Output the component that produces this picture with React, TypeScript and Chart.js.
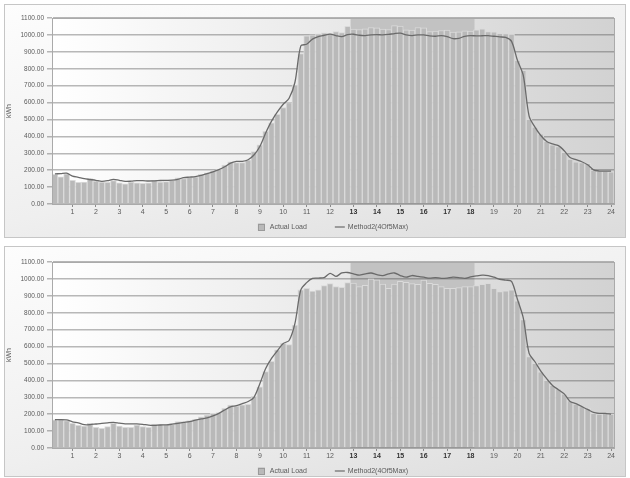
import React, { useEffect, useRef } from 'react';
import { Chart, registerables } from 'chart.js';

Chart.register(...registerables);

// ---------- data ----------
const hourLabels = ['1', '2', '3', '4', '5', '6', '7', '8', '9', '10', '11', '12', '13', '14', '15', '16', '17', '18', '19', '20', '21', '22', '23', '24'];
const slotsPerHour = 4;
const peakFromHour = '13';
const peakToHour = '18';
const seriesNames = ['Actual Load', 'Method2(4Of5Max)'];
const yTitle = 'kWh';
const yMin = 0;
const yMax = 1100;
const yStep = 100;

const actualLoadTop = [
  175, 160, 178, 140, 128, 130, 150, 135, 130, 128, 138, 125, 120, 130, 125, 122,
  125, 140, 130, 132, 140, 155, 150, 158, 160, 175, 185, 198, 205, 230, 250, 245,
  245, 260, 310, 350, 430, 480, 530, 570, 600, 705, 890, 995, 1000, 1006, 1012, 1010,
  1020, 1014, 1050, 1034, 1032, 1036, 1044, 1042, 1035, 1032, 1055, 1052, 1030, 1028, 1044, 1042,
  1020, 1022, 1026, 1028, 1016, 1018, 1024, 1022, 1030, 1036, 1020, 1018, 1010, 1008, 1005, 850,
  790, 500, 455, 415, 370, 350, 340, 305, 265, 250, 245, 240, 200, 195, 195, 190,
];
const methodTop = [
  178, 180, 182, 165, 158, 150, 145, 140, 134, 138, 146, 140, 134, 135, 138, 138,
  136, 137, 139, 140, 141, 146, 156, 159, 162, 170, 180, 190, 203, 220, 242, 252,
  252, 262, 290, 340, 420, 490, 545, 590, 625, 720, 935, 945, 975, 990, 998, 1005,
  996, 990, 1002, 1004, 998, 996, 1000, 1002, 1000, 1003, 1008, 1010, 1000, 996, 1000, 1000,
  994, 992, 996, 990, 978, 980, 992, 996, 994, 995, 996, 992, 988, 985, 962, 850,
  760, 520, 455, 405, 370, 355, 345, 315, 275, 262, 250, 232, 202, 195, 195, 195,
];
const actualLoadBottom = [
  166, 170, 162, 146, 134, 130, 146, 122, 116, 126, 146, 130, 122, 122, 136, 126,
  122, 142, 140, 138, 142, 156, 156, 162, 170, 185, 195, 205, 210, 235, 254, 250,
  255, 258, 305, 362, 452, 512, 580, 620, 612, 727, 935, 944, 928, 936, 960, 972,
  955, 950, 978, 976, 954, 962, 1000, 995, 970, 944, 970, 985, 980, 972, 968, 993,
  974, 968, 954, 944, 944, 948, 954, 954, 960, 968, 974, 944, 925, 930, 935, 870,
  760, 540, 500, 450, 400, 370, 350, 320, 280, 260, 245, 235, 205, 200, 205, 200,
];
const methodBottom = [
  167, 168, 166, 155, 148, 138, 138, 142, 146, 149, 151, 147, 143, 143, 143, 140,
  135, 134, 136, 137, 141, 146, 151, 156, 165, 172, 178, 190, 205, 225, 243, 250,
  262, 275, 300, 380, 470, 530, 575, 618, 636, 737, 935, 978, 1003, 1005, 1008, 1033,
  1015, 1035, 1038, 1030, 1022, 1030, 1035, 1025, 1020, 1030, 1035, 1020, 1010, 1020, 1015, 1010,
  1005, 1008, 1003, 1005, 1010, 1008, 1003, 1012, 1018, 1022, 1020, 1010, 998, 993, 985, 880,
  770, 560, 510, 455, 410, 370, 345, 320, 275, 262, 245, 228, 210, 205, 205, 200,
];

const slotLabels = Array.from({ length: hourLabels.length * slotsPerHour }, (_, i) =>
  i % slotsPerHour === slotsPerHour - 1 ? hourLabels[Math.floor(i / slotsPerHour)] : ''
);

const FONT = "'Liberation Sans', Arial, sans-serif";
const BAR_FILL = '#b9b9b9';
const BAR_EDGE = '#dadada';
const LINE_COLOR = '#6a6a6a';
const TEXT_COLOR = '#5a5a5a';

type Props = { actual: number[]; method: number[]; width: number; height: number; padTop: number; padBottom: number };

function LoadChart({ actual, method, width, height, padTop, padBottom }: Props) {
  const ref = useRef<HTMLCanvasElement>(null);
  useEffect(() => {
    const canvas = ref.current;
    if (!canvas) return;
    const peakA = slotLabels.indexOf(peakFromHour);
    const peakB = slotLabels.indexOf(peakToHour);

    const decor = {
      id: 'decor',
      beforeDraw(chart: any) {
        const { ctx, chartArea: a, scales } = chart;
        const x = scales.x;
        ctx.save();
        const g = ctx.createLinearGradient(a.left, 0, a.right, 0);
        g.addColorStop(0, '#ffffff');
        g.addColorStop(0.5, '#e9e9e9');
        g.addColorStop(1, '#d2d2d2');
        ctx.fillStyle = g;
        ctx.fillRect(a.left, a.top, a.right - a.left, a.bottom - a.top);
        const half = (x.getPixelForValue(1) - x.getPixelForValue(0)) / 2;
        const x0 = x.getPixelForValue(peakA) - half;
        const x1 = x.getPixelForValue(peakB) + half + 1;
        ctx.fillStyle = '#c2c2c2';
        ctx.fillRect(x0, a.top, x1 - x0, a.bottom - a.top);
        ctx.restore();
      },
      afterDraw(chart: any) {
        const { ctx, chartArea: a } = chart;
        ctx.save();
        ctx.strokeStyle = '#aaaaaa';
        ctx.lineWidth = 1;
        ctx.strokeRect(Math.round(a.left) + 0.5, Math.round(a.top) + 0.5, Math.round(a.right - a.left), Math.round(a.bottom - a.top));
        // legend
        ctx.font = `7px ${FONT}`;
        ctx.textBaseline = 'middle';
        const t1 = ctx.measureText(seriesNames[0]).width;
        const t2 = ctx.measureText(seriesNames[1]).width;
        const total = 7 + 5 + t1 + 28 + 10 + 3 + t2;
        let lx = (a.left + a.right) / 2 - total / 2;
        const ly = a.bottom + 23;
        ctx.fillStyle = BAR_FILL;
        ctx.fillRect(lx, ly - 3.5, 7, 7);
        ctx.strokeStyle = '#9a9a9a';
        ctx.strokeRect(Math.round(lx) + 0.5, Math.round(ly - 3.5) + 0.5, 6, 6);
        lx += 12;
        ctx.fillStyle = TEXT_COLOR;
        ctx.fillText(seriesNames[0], lx, ly);
        lx += t1 + 28;
        ctx.strokeStyle = LINE_COLOR;
        ctx.lineWidth = 1.2;
        ctx.beginPath();
        ctx.moveTo(lx, ly);
        ctx.lineTo(lx + 10, ly);
        ctx.stroke();
        lx += 13;
        ctx.fillText(seriesNames[1], lx, ly);
        ctx.restore();
      },
    };

    const chart = new Chart(canvas, {
      type: 'bar',
      data: {
        labels: slotLabels,
        datasets: [
          {
            type: 'line',
            label: seriesNames[1],
            data: method,
            borderColor: LINE_COLOR,
            borderWidth: 1.3,
            pointRadius: 0,
            tension: 0.3,
            fill: false,
            order: 0,
          } as any,
          {
            type: 'bar',
            label: seriesNames[0],
            data: actual,
            backgroundColor: BAR_FILL,
            borderColor: BAR_EDGE,
            borderWidth: { left: 1, right: 1, top: 1, bottom: 0 },
            borderSkipped: false,
            barPercentage: 1,
            categoryPercentage: 1,
            order: 1,
          } as any,
        ],
      },
      options: {
        responsive: false,
        animation: false,
        devicePixelRatio: 1,
        layout: { padding: { top: padTop, bottom: padBottom, left: 0, right: 11 } },
        plugins: { legend: { display: false }, tooltip: { enabled: false } },
        scales: {
          x: {
            offset: true,
            grid: {
              display: true,
              drawOnChartArea: false,
              drawTicks: true,
              tickLength: 3,
              offset: false,
              color: (c: any) => (slotLabels[c.index] ? '#8a8a8a' : 'rgba(0,0,0,0)'),
            },
            border: { display: true, color: '#9a9a9a' },
            ticks: {
              autoSkip: false,
              maxRotation: 0,
              minRotation: 0,
              padding: 1,
              color: (c: any) => (c.index >= peakA && c.index <= peakB ? '#333333' : TEXT_COLOR),
              font: (c: any) => ({ family: FONT, size: 7, weight: c.index >= peakA && c.index <= peakB ? 'bold' : 'normal' }),
            },
            afterFit: (s: any) => {
              s.height = 16;
            },
          },
          y: {
            min: yMin,
            max: yMax,
            z: 1,
            grid: { color: 'rgba(70,70,70,0.38)', lineWidth: 1.5, tickLength: 5, drawTicks: true },
            border: { display: true, color: '#9a9a9a' },
            ticks: {
              stepSize: yStep,
              padding: 3,
              color: TEXT_COLOR,
              font: { family: FONT, size: 6.5 },
              callback: (v: any) => Number(v).toFixed(2),
            },
            title: { display: true, text: yTitle, color: TEXT_COLOR, font: { family: FONT, size: 7 }, padding: 0 },
            afterFit: (s: any) => {
              s.width = 47;
            },
          },
        },
      } as any,
      plugins: [decor],
    });
    return () => chart.destroy();
  }, [actual, method, width, height, padTop, padBottom]);
  return <canvas ref={ref} width={width} height={height} style={{ display: 'block', width, height }} />;
}

const panelStyle: React.CSSProperties = {
  position: 'absolute',
  left: 4,
  width: 620,
  border: '1px solid #c6c6c6',
  background: 'linear-gradient(165deg, #fdfdfd 0%, #efefef 55%, #dcdcdc 100%)',
};

export default function App() {
  return (
    <div style={{ position: 'fixed', left: 0, top: 0, width: 630, height: 478, background: '#ffffff', overflow: 'hidden' }}>
      <div style={{ ...panelStyle, top: 4, height: 232 }}>
        <LoadChart actual={actualLoadTop} method={methodTop} width={620} height={232} padTop={13} padBottom={17} />
      </div>
      <div style={{ ...panelStyle, top: 246, height: 229 }}>
        <LoadChart actual={actualLoadBottom} method={methodBottom} width={620} height={229} padTop={15} padBottom={12} />
      </div>
    </div>
  );
}
